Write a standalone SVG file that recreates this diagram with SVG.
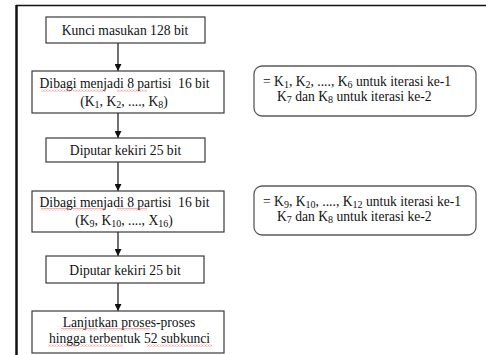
<svg xmlns="http://www.w3.org/2000/svg" width="486" height="355" viewBox="0 0 486 355">
<style>
.box{fill:#fff;stroke:#3a3a3a;stroke-width:1.2}
.rbox{fill:#fff;stroke:#5a5a5a;stroke-width:1.3}
.t{font-family:"Liberation Serif","Times New Roman",serif;font-size:13.6px;fill:#111}
.n{font-size:13.6px}
.c{text-anchor:middle}
.sub{font-size:10px}
.edge{stroke:#111;stroke-width:1.2;fill:none;marker-end:url(#ah)}
.sq{fill:url(#wave)}
</style>
<defs>
<marker id="ah" viewBox="0 0 8 8" refX="8" refY="4" markerWidth="7" markerHeight="7" markerUnits="userSpaceOnUse" orient="auto">
<path d="M0,0 L8,4 L0,8 z" fill="#111"/>
</marker>
<pattern id="wave" width="3" height="2.5" patternUnits="userSpaceOnUse">
<path d="M0,2 L1.5,0.5 L3,2" fill="none" stroke="#e04040" stroke-width="0.7"/>
</pattern>
</defs>
<rect width="486" height="355" fill="#fff"/>
<g id="frame">
<line x1="16" y1="5.5" x2="486" y2="5.5" stroke="#111" stroke-width="1.5"/>
<line x1="16.5" y1="5" x2="16.5" y2="355" stroke="#111" stroke-width="2.5"/>
</g>
<g id="connectors">
<line class="edge" x1="118" y1="43" x2="118" y2="71"/>
<line class="edge" x1="118" y1="113" x2="118" y2="138"/>
<line class="edge" x1="118" y1="162" x2="118" y2="191"/>
<line class="edge" x1="118" y1="232" x2="118" y2="256"/>
<line class="edge" x1="118" y1="283" x2="118" y2="311"/>
</g>
<g id="n1">
<rect class="box" x="46" y="17" width="159" height="26"/>
<text class="t c" x="125" y="35">Kunci masukan 128 bit</text>
</g>
<g id="n2">
<rect class="box" x="32" y="71" width="192" height="42"/>
<text class="t c" x="124.5" y="88">Dibagi menjadi 8 partisi&#160; 16 bit</text>
<text class="t c" x="124" y="106">(K<tspan class="sub" dy="2">1</tspan><tspan dy="-2">, K</tspan><tspan class="sub" dy="2">2</tspan><tspan dy="-2">, ...., K</tspan><tspan class="sub" dy="2">8</tspan><tspan dy="-2">)</tspan></text>
<rect class="sq" x="41" y="89" width="29" height="2.5"/>
<rect class="sq" x="73" y="89" width="33" height="2.5"/>
<rect class="sq" x="117" y="89" width="30" height="2.5"/>
</g>
<g id="n3">
<rect class="box" x="46" y="138" width="159" height="24"/>
<text class="t c" x="125.5" y="155">Diputar kekiri 25 bit</text>
</g>
<g id="n4">
<rect class="box" x="32" y="191" width="192" height="41"/>
<text class="t c" x="124.5" y="207">Dibagi menjadi 8 partisi&#160; 16 bit</text>
<text class="t c" x="124" y="225">(K<tspan class="sub" dy="2">9</tspan><tspan dy="-2">, K</tspan><tspan class="sub" dy="2">10</tspan><tspan dy="-2">, ...., X</tspan><tspan class="sub" dy="2">16</tspan><tspan dy="-2">)</tspan></text>
<rect class="sq" x="41" y="208" width="29" height="2.5"/>
<rect class="sq" x="73" y="208" width="33" height="2.5"/>
<rect class="sq" x="117" y="208" width="30" height="2.5"/>
</g>
<g id="n5">
<rect class="box" x="46" y="256" width="158" height="27"/>
<text class="t c" x="125" y="274.5">Diputar kekiri 25 bit</text>
</g>
<g id="n6">
<rect class="box" x="32" y="311" width="192" height="42"/>
<text class="t c" x="129" y="327">Lanjutkan proses-proses</text>
<text class="t c" x="129.5" y="343">hingga terbentuk 52 subkunci</text>
<rect class="sq" x="61" y="328" width="36" height="2.5"/>
<rect class="sq" x="100" y="328" width="50" height="2.5"/>
<rect class="sq" x="48" y="344" width="29" height="2.5"/>
<rect class="sq" x="80" y="344" width="43" height="2.5"/>
<rect class="sq" x="147" y="344" width="65" height="2.5"/>
</g>
<g id="note1">
<rect class="rbox" x="254" y="66" width="222" height="50" rx="8"/>
<text class="t n" x="263" y="86">= K<tspan class="sub" dy="2">1</tspan><tspan dy="-2">, K</tspan><tspan class="sub" dy="2">2</tspan><tspan dy="-2">, ...., K</tspan><tspan class="sub" dy="2">6</tspan><tspan dy="-2"> untuk iterasi ke-1</tspan></text>
<text class="t n" x="277" y="101">K<tspan class="sub" dy="2">7</tspan><tspan dy="-2"> dan K</tspan><tspan class="sub" dy="2">8</tspan><tspan dy="-2"> untuk iterasi ke-2</tspan></text>
</g>
<g id="note2">
<rect class="rbox" x="254" y="186" width="222" height="49" rx="8"/>
<text class="t n" x="263" y="206">= K<tspan class="sub" dy="2">9</tspan><tspan dy="-2">, K</tspan><tspan class="sub" dy="2">10</tspan><tspan dy="-2">, ...., K</tspan><tspan class="sub" dy="2">12</tspan><tspan dy="-2"> untuk iterasi ke-1</tspan></text>
<text class="t n" x="277" y="221">K<tspan class="sub" dy="2">7</tspan><tspan dy="-2"> dan K</tspan><tspan class="sub" dy="2">8</tspan><tspan dy="-2"> untuk iterasi ke-2</tspan></text>
</g>
</svg>
